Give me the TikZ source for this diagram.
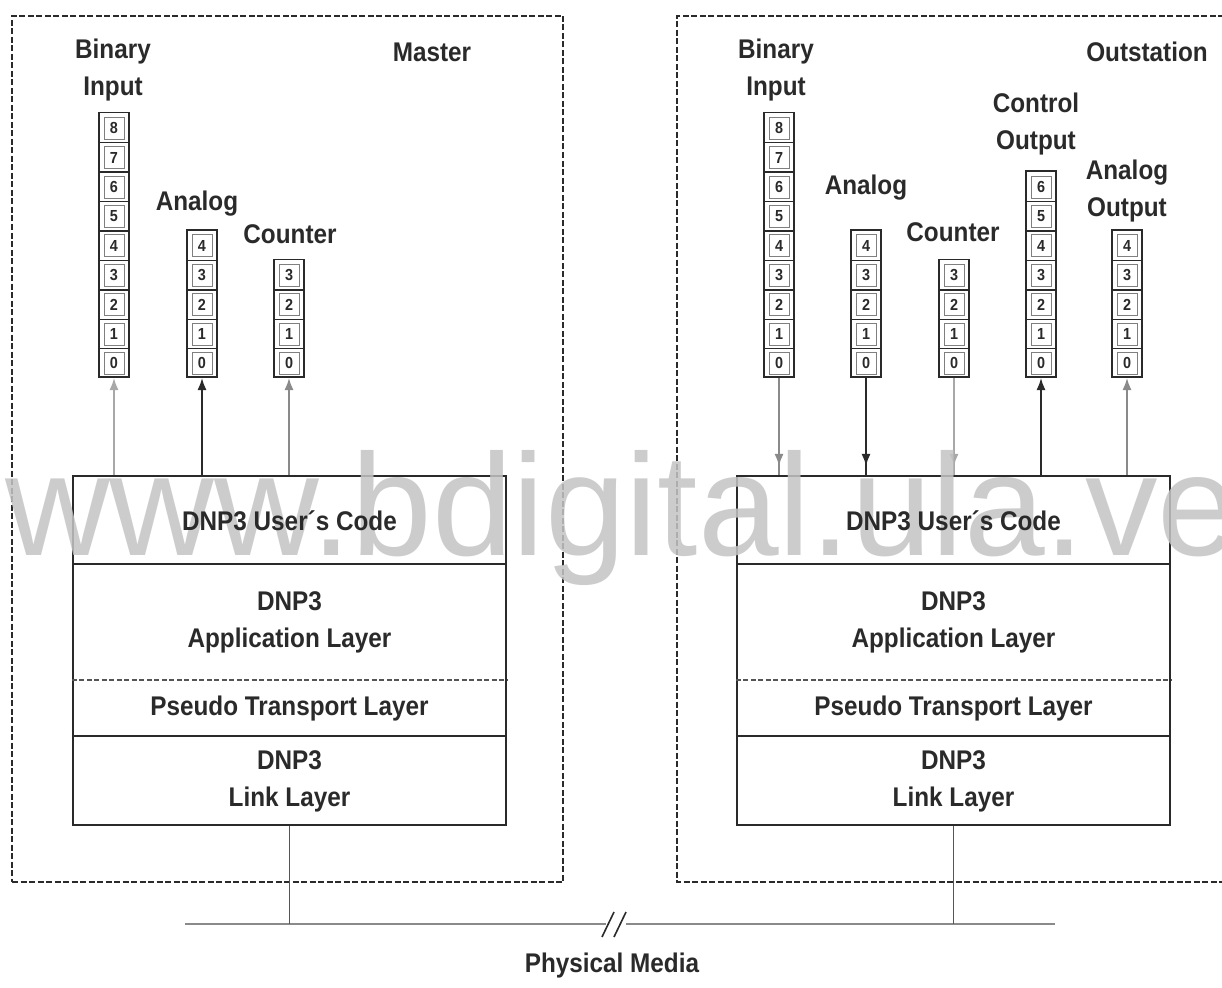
\documentclass[tikz,border=0pt]{standalone}
\usepackage{fontspec}
\setmainfont{Liberation Sans}[FakeStretch=0.9]
\newfontfamily\wmfont{Liberation Sans}
\usetikzlibrary{arrows.meta,calc}
\definecolor{ink}{HTML}{2A2A2A}
\definecolor{midgray}{HTML}{8A8A8A}
\definecolor{lgray}{HTML}{A8A8A8}
\definecolor{wmgray}{HTML}{C4C4C4}
\newcommand\lbl{\bfseries\fontsize{27}{37}\selectfont}
\newcommand\dig{\bfseries\fontsize{16}{18}\selectfont}
\tikzset{
  outerbox/.style={draw=ink, line width=2pt, dash pattern=on 6pt off 2.5pt},
  stackbox/.style={draw=ink, line width=2.2pt, minimum width=433pt, minimum height=349pt, inner sep=0pt},
  divline/.style={draw=ink, line width=2.2pt},
  divdash/.style={draw=ink!80, line width=1.6pt, dash pattern=on 5pt off 2.5pt},
  txt/.style={text=ink, align=center, inner sep=0pt, font=\lbl},
  colbox/.style={draw=ink, line width=1.8pt, minimum width=30pt, inner sep=0pt},
  cellbox/.style={draw=ink!60, line width=0.7pt, minimum width=20pt, minimum height=22pt, inner sep=0pt, text=ink, font=\dig},
  arr/.style={line width=1.6pt, -{Latex[length=12pt,width=9pt]}},
  plain/.style={line width=1.6pt},
}
\newcommand\datacol[3]{%
  \node[colbox, minimum height={29.4*#3}, anchor=south] (#1) at (#2,378) {};
  \pgfmathtruncatemacro\lastidx{#3-1}
  \foreach \k in {0,...,\lastidx}{
    \node[cellbox] (#1-\k) at (#2,{378-14.7-29.4*\k}) {\k};
    \ifnum\k>0
      \draw[ink, line width=1.4pt] ({#2-15},{378-29.4*\k}) -- ({#2+15},{378-29.4*\k});
    \fi
  }
}
\begin{document}
\begin{tikzpicture}[x=1pt,y=-1pt]
\useasboundingbox (0,0) rectangle (1222,987);
\fill[white] (0,0) rectangle (1222,987);

% outer dashed boxes
\node[outerbox, minimum width=551pt, minimum height=866pt, inner sep=0pt] (mbox) at (287.5,449) {};
\draw[outerbox] (1224,16) -- (677,16) -- (677,882) -- (1224,882);
\coordinate (obox) at (677,16);

% titles
\node[txt] (mtitle) at (432,52) {Master};
\node[txt] (otitle) at (1147,52) {Outstation};

% ---------- stacks (frames) ----------
\node[stackbox] (mstack) at (289.5,650.5) {};
\draw[divline] ($(mstack.north west)+(0,89)$) -- ($(mstack.north east)+(0,89)$);
\draw[divdash] ($(mstack.north west)+(0,205)$) -- ($(mstack.north east)+(0,205)$);
\draw[divline] ($(mstack.north west)+(0,261)$) -- ($(mstack.north east)+(0,261)$);

\node[stackbox] (ostack) at (953.5,650.5) {};
\draw[divline] ($(ostack.north west)+(0,89)$) -- ($(ostack.north east)+(0,89)$);
\draw[divdash] ($(ostack.north west)+(0,205)$) -- ($(ostack.north east)+(0,205)$);
\draw[divline] ($(ostack.north west)+(0,261)$) -- ($(ostack.north east)+(0,261)$);

% ---------- data columns ----------
\datacol{mBI}{114}{9}
\datacol{mAN}{202}{5}
\datacol{mCT}{289}{4}
\node[txt] (mBIl) at (113,70) {Binary\\Input};
\node[txt] (mANl) at (197,204) {Analog};
\node[txt] (mCTl) at (290,234) {Counter};

\datacol{oBI}{779}{9}
\datacol{oAN}{866}{5}
\datacol{oCT}{954}{4}
\datacol{oCO}{1041}{7}
\datacol{oAO}{1127}{5}
\node[txt] (oBIl) at (776,70) {Binary\\Input};
\node[txt] (oANl) at (866,188) {Analog};
\node[txt] (oCTl) at (953,232) {Counter};
\node[txt] (oCOl) at (1036,124) {Control\\Output};
\node[txt] (oAOl) at (1127,191) {Analog\\Output};

% ---------- connectors ----------
\draw[arr, lgray] (mstack.north -| mBI.south) -- (mBI.south);
\draw[arr, ink] (mstack.north -| mAN.south) -- (mAN.south);
\draw[arr, midgray] (mstack.north -| mCT.south) -- (mCT.south);

\draw[plain, midgray] (oBI.south) -- (ostack.north -| oBI.south);
\draw[arr, midgray] (oBI.south) -- ($(ostack.north -| oBI.south)+(0,-9)$);
\draw[plain, ink] (oAN.south) -- (ostack.north -| oAN.south);
\draw[arr, ink] (oAN.south) -- ($(ostack.north -| oAN.south)+(0,-9)$);
\draw[plain, lgray] (oCT.south) -- (ostack.north -| oCT.south);
\draw[arr, lgray] (oCT.south) -- ($(ostack.north -| oCT.south)+(0,-9)$);
\draw[arr, ink] (ostack.north -| oCO.south) -- (oCO.south);
\draw[arr, midgray] (ostack.north -| oAO.south) -- (oAO.south);

% ---------- Physical media ----------
\coordinate (busL) at (185,924);
\coordinate (busR) at (1055,924);
\coordinate (brkL) at (606,924);
\coordinate (brkR) at (626,924);
\draw[midgray, line width=2pt] (busL) -- (brkL);
\draw[midgray, line width=2pt] (brkR) -- (busR);
\draw[ink, line width=1.6pt] ($(brkL)+(-4,13)$) -- ($(brkL)+(8,-12)$);
\draw[ink, line width=1.6pt] ($(brkL)+(8,13)$) -- ($(brkL)+(20,-12)$);
\draw[ink!80, line width=1.5pt] (mstack.south) -- (mstack.south |- busL);
\draw[ink!80, line width=1.5pt] (ostack.south) -- (ostack.south |- busR);
\node[txt] (pm) at (612,966) {Physical Media};

% watermark (behind the layer texts)
\node[anchor=base west, inner sep=0pt, text=wmgray, opacity=0.85, font=\wmfont\fontsize{145}{150}\selectfont] (wm) at (5,555) {www.bdigital.ula.ve};

% ---------- layer texts ----------
\node[txt] (muser) at (289.5,521) {DNP3 User´s Code};
\node[txt] (mapp) at (289.5,622) {DNP3\\Application Layer};
\node[txt] (mtrans) at (289.5,709) {Pseudo Transport Layer};
\node[txt] (mlink) at (289.5,781) {DNP3\\Link Layer};
\node[txt] (ouser) at (953.5,521) {DNP3 User´s Code};
\node[txt] (oapp) at (953.5,622) {DNP3\\Application Layer};
\node[txt] (otrans) at (953.5,709) {Pseudo Transport Layer};
\node[txt] (olink) at (953.5,781) {DNP3\\Link Layer};
\end{tikzpicture}
\end{document}
